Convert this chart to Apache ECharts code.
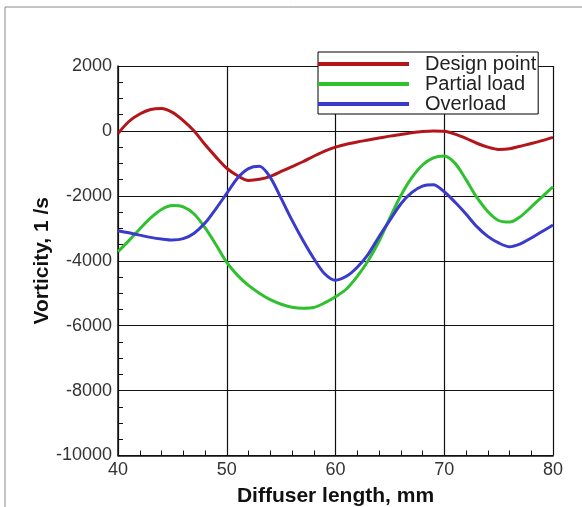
<!DOCTYPE html>
<html>
<head>
<meta charset="utf-8">
<script src="https://cdn.jsdelivr.net/npm/echarts@6/dist/echarts.min.js"></script>
<style>
  html, body { margin: 0; padding: 0; background: #fff; }
  #chart { width: 582px; height: 507px; }
</style>
</head>
<body>
<div id="chart"></div>
<script>
// Diffuser length stations, mm
const lengthMm = [
  40, 41, 42, 43, 44, 45, 46, 47, 48, 49, 50, 51, 52, 53, 54, 55, 56, 57, 58, 59, 60,
  61, 62, 63, 64, 65, 66, 67, 68, 69, 70, 71, 72, 73, 74, 75, 76, 77, 78, 79, 80
];
// Vorticity, 1/s, at each station for the three operating regimes
const designPoint = [
  -80, 290, 520, 660, 690, 570, 320, 0, -420, -800, -1150, -1380, -1525, -1490, -1400,
  -1250, -1100, -950, -780, -620, -500, -410, -340, -280, -220, -160, -110, -60, -20, 0,
  -10, -100, -230, -380, -500, -570, -550, -470, -390, -300, -200
];
const partialLoad = [
  -3720, -3380, -3020, -2680, -2420, -2300, -2340, -2560, -2980, -3500, -4050, -4450,
  -4760, -5000, -5200, -5340, -5430, -5460, -5440, -5300, -5110, -4870, -4480, -4000,
  -3400, -2680, -2000, -1450, -1050, -830, -775, -1000, -1500, -2050, -2480, -2760,
  -2810, -2640, -2340, -2030, -1720
];
const overload = [
  -3075, -3140, -3210, -3280, -3330, -3360, -3320, -3150, -2840, -2400, -1925, -1450,
  -1160, -1090, -1430, -2080, -2750, -3370, -3930, -4400, -4600, -4480, -4200, -3800,
  -3260, -2750, -2250, -1900, -1700, -1660, -1875, -2200, -2560, -2950, -3250, -3450,
  -3570, -3480, -3300, -3100, -2900
];
const seriesNames = ['Design point', 'Partial load', 'Overload'];
const seriesColors = ['#b2161a', '#2fc02f', '#3a3acd'];
const xTicks = { min: 40, max: 80, step: 10 };
const yTicks = { min: -10000, max: 2000, step: 2000 };

const font = 'Liberation Sans, Arial, sans-serif';
const chart = echarts.init(document.getElementById('chart'), null, { renderer: 'canvas' });

const pair = (values) => values.map((v, i) => [lengthMm[i], v]);
const mkSeries = (name, values, color) => ({
  name, type: 'line', data: pair(values), smooth: 0.3, showSymbol: false, symbol: 'none',
  lineStyle: { color, width: 3 }, itemStyle: { color }, z: 3
});

chart.setOption({
  backgroundColor: '#fff',
  animation: false,
  grid: { left: 118, top: 66, right: 29, bottom: 51.5, containLabel: false, outerBoundsMode: 'none' },
  legend: {
    orient: 'vertical', left: 318, top: 52,
    icon: 'rect', itemWidth: 91, itemHeight: 4, itemGap: 0,
    padding: [2, 2, 0, 0],
    backgroundColor: '#fff', borderColor: '#000', borderWidth: 1,
    textStyle: { fontFamily: font, fontSize: 20, color: '#222', lineHeight: 20, padding: [0, 0, 0, 11] },
    data: seriesNames, z: 10
  },
  xAxis: {
    type: 'value', min: xTicks.min, max: xTicks.max, interval: xTicks.step,
    name: 'Diffuser length, mm', nameLocation: 'middle', nameGap: 30, nameMoveOverlap: false,
    nameTextStyle: { fontFamily: font, fontSize: 21, fontWeight: 'bold', color: '#111' },
    axisLine: { show: true, onZero: false, lineStyle: { color: '#111', width: 1.5 } },
    axisTick: { show: true, inside: true, length: 5, lineStyle: { color: '#111' } },
    minorTick: { show: true, splitNumber: 5, length: 5, lineStyle: { color: '#111' } },
    axisLabel: { fontFamily: font, fontSize: 18, color: '#333', margin: 6 },
    splitLine: { show: true, lineStyle: { color: '#111', width: 1.2 } }
  },
  yAxis: {
    type: 'value', min: yTicks.min, max: yTicks.max, interval: yTicks.step,
    name: 'Vorticity, 1 /s', nameLocation: 'middle', nameGap: 65, nameRotate: 90, nameMoveOverlap: false,
    nameTextStyle: { fontFamily: font, fontSize: 21, fontWeight: 'bold', color: '#111' },
    axisLine: { show: true, onZero: false, lineStyle: { color: '#111', width: 1.5 } },
    axisTick: { show: true, inside: true, length: 5, lineStyle: { color: '#111' } },
    minorTick: { show: true, splitNumber: 4, length: 5, lineStyle: { color: '#111' } },
    axisLabel: { fontFamily: font, fontSize: 18, color: '#333', margin: 6, formatter: (v) => String(v) },
    splitLine: { show: true, lineStyle: { color: '#111', width: 1.2 } }
  },
  graphic: [
    { type: 'line', shape: { x1: 5, y1: 7, x2: 582, y2: 7 }, style: { stroke: '#8a8a8a', lineWidth: 1 } },
    { type: 'line', shape: { x1: 5, y1: 7, x2: 5, y2: 507 }, style: { stroke: '#8a8a8a', lineWidth: 1 } }
  ],
  series: [
    mkSeries(seriesNames[0], designPoint, seriesColors[0]),
    mkSeries(seriesNames[1], partialLoad, seriesColors[1]),
    mkSeries(seriesNames[2], overload, seriesColors[2])
  ]
});
</script>
</body>
</html>
